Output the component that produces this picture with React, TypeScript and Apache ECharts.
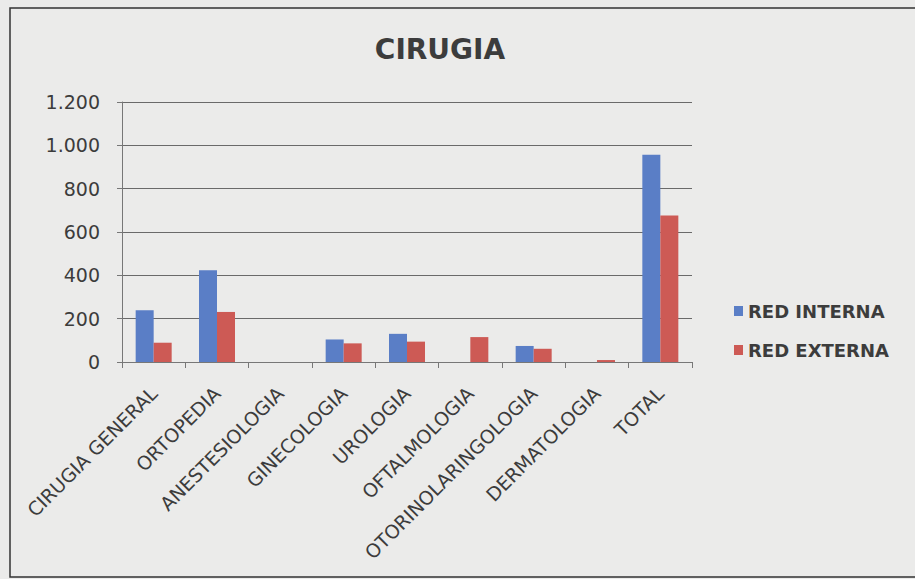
import React, { useEffect, useRef } from "react";
import * as echarts from "echarts";

const categories = [
  "CIRUGIA GENERAL",
  "ORTOPEDIA",
  "ANESTESIOLOGIA",
  "GINECOLOGIA",
  "UROLOGIA",
  "OFTALMOLOGIA",
  "OTORINOLARINGOLOGIA",
  "DERMATOLOGIA",
  "TOTAL",
];
const redInterna = [239, 423, 0, 104, 130, 0, 74, 0, 956];
const redExterna = [89, 231, 0, 86, 94, 115, 61, 9, 676];
const yTicks = [0, 200, 400, 600, 800, 1000, 1200];

const fmt = (v: number) => (v >= 1000 ? String(v).replace(/(\d)(\d{3})$/, "$1.$2") : String(v));
const FONT = "DejaVu Sans";

export default function App() {
  const ref = useRef<HTMLDivElement>(null);
  useEffect(() => {
    if (!ref.current) return;
    const chart = echarts.init(ref.current, null, { renderer: "svg" });
    chart.setOption({
      animation: false,
      backgroundColor: "#ebebea",
      textStyle: { fontFamily: FONT },
      title: {
        text: "CIRUGIA",
        left: 435,
        textAlign: "center",
        top: 30,
        textStyle: { fontFamily: FONT, fontWeight: "bold", fontSize: 28, color: "#3c3c3c" },
      },
      graphic: [
        {
          type: "rect",
          shape: { x: 10, y: 8, width: 920, height: 569 },
          style: { fill: "none", stroke: "#333", lineWidth: 1.5 },
        },
      ],
      legend: {
        orient: "vertical",
        left: 729,
        top: 297,
        itemWidth: 9,
        itemHeight: 10,
        itemGap: 21,
        icon: "rect",
        textStyle: { fontFamily: FONT, fontSize: 18, color: "#3c3c3c", fontWeight: "bold" },
        data: ["RED INTERNA", "RED EXTERNA"],
      },
      grid: { left: 122, right: 223, top: 102, bottom: 217, containLabel: false },
      xAxis: {
        type: "category",
        data: categories,
        axisLine: { lineStyle: { color: "#777" } },
        axisTick: { show: true, length: 6, alignWithLabel: false, lineStyle: { color: "#777" } },
        axisLabel: {
          rotate: 45,
          interval: 0,
          margin: 28,
          fontSize: 19,
          color: "#3c3c3c",
          fontFamily: FONT,
        },
      },
      yAxis: {
        type: "value",
        min: 0,
        max: 1200,
        interval: 200,
        axisLine: { show: true, lineStyle: { color: "#777" } },
        axisTick: { show: true, length: 5, lineStyle: { color: "#777" } },
        splitLine: { lineStyle: { color: "#6a6a6a", width: 1 } },
        axisLabel: {
          fontSize: 19,
          margin: 22,
          color: "#3c3c3c",
          fontFamily: FONT,
          formatter: (v: number) => (yTicks.includes(v) ? fmt(v) : ""),
        },
      },
      series: [
        {
          name: "RED INTERNA",
          type: "bar",
          data: redInterna,
          barWidth: 18,
          barGap: "0%",
          itemStyle: { color: "#5a7ec6" },
        },
        {
          name: "RED EXTERNA",
          type: "bar",
          data: redExterna,
          barWidth: 18,
          barGap: "0%",
          itemStyle: { color: "#cd5a55" },
        },
      ],
    });
    return () => chart.dispose();
  }, []);
  return <div ref={ref} style={{ width: 915, height: 579, position: "absolute", left: 0, top: 0 }} />;
}
